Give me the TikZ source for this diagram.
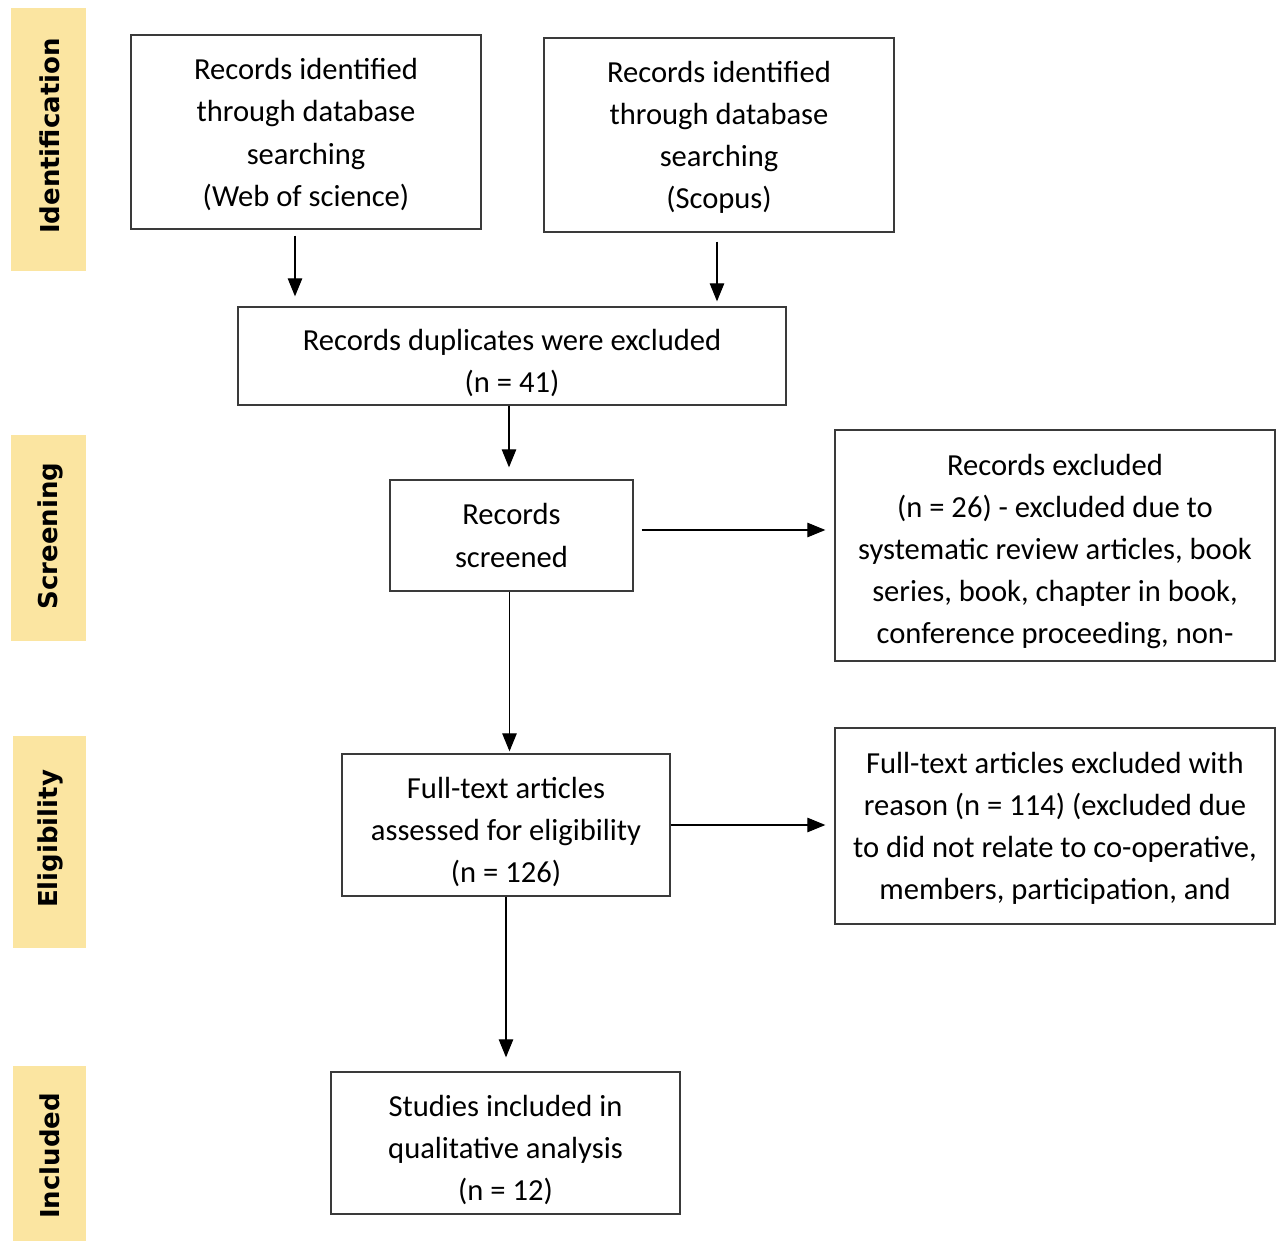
\documentclass[tikz,border=0pt]{standalone}
\usepackage{fontspec}
\setmainfont{Carlito}
\newfontfamily\bandfont{DejaVu Sans}
\usepackage{xcolor}
\usepackage{tikz}
\usetikzlibrary{arrows.meta,positioning}
\definecolor{bandyellow}{HTML}{FBE5A1}
\definecolor{boxline}{HTML}{3A3A3A}
% push the text of a box down a little
\newcommand{\lowtext}[1]{\rule{0pt}{#1}}

\begin{document}
\begin{tikzpicture}[
    box/.style={draw=boxline, line width=0.75pt, align=center, inner sep=0pt,
        font=\fontsize{17.4}{24}\selectfont},
    band/.style={fill=bandyellow, inner sep=0pt},
    bandlabel/.style={rotate=90, font=\bandfont\bfseries\fontsize{14.8}{17}\selectfont},
    arr/.style={line width=0.6pt, -{Triangle[length=0.36cm, width=0.29cm]}}
]
    % Page frame
    \useasboundingbox (0,0) rectangle (25.62,-24.86);
    % Stage bands on the left
    \node[band, minimum width=1.5cm, minimum height=5.26cm] (bandid) at (0.97,-2.79) {};
    \node[band, minimum width=1.5cm, minimum height=4.12cm] (bandscr) at (0.97,-10.76) {};
    \node[band, minimum width=1.46cm, minimum height=4.24cm] (bandelig) at (0.99,-16.84) {};
    \node[band, minimum width=1.46cm, minimum height=3.5cm] (bandincl) at (0.99,-23.07) {};
    \node[bandlabel] (labid) at (1.0,-2.72) {Identification};
    \node[bandlabel] (labscr) at (1.0,-10.72) {Screening};
    \node[bandlabel] (labelig) at (1.0,-16.78) {Eligibility};
    \node[bandlabel] (labincl) at (1.0,-23.12) {Included};
    % Identification
    \node[box, minimum width=7.0cm, minimum height=3.88cm] (wos) at (6.12,-2.64)
        {\lowtext{15pt}Records identified\\through database\\searching\\(Web of science)};
    \node[box, minimum width=7.0cm, minimum height=3.88cm] (scopus) at (14.38,-2.70)
        {\lowtext{15pt}Records identified\\through database\\searching\\(Scopus)};
    \node[box, minimum width=10.96cm, minimum height=1.96cm] (dup) at (10.24,-7.12)
        {\lowtext{20pt}Records duplicates were excluded\\(n = 41)};
    % Screening
    \node[box, minimum width=4.86cm, minimum height=2.22cm] (screened) at (10.23,-10.71)
        {Records\\screened};
    \node[box, minimum width=8.8cm, minimum height=4.62cm] (recexcl) at (21.10,-10.91)
        {\lowtext{19pt}Records excluded\\(n = 26) - excluded due to\\systematic review articles, book\\series, book, chapter in book,\\conference proceeding, non-};
    % Eligibility
    \node[box, minimum width=6.56cm, minimum height=2.84cm] (fulltext) at (10.12,-16.50)
        {\lowtext{20pt}Full-text articles\\assessed for eligibility\\(n = 126)};
    \node[box, minimum width=8.8cm, minimum height=3.92cm] (ftexcl) at (21.10,-16.52)
        {\lowtext{15pt}Full-text articles excluded with\\reason (n = 114) (excluded due\\to did not relate to co-operative,\\members, participation, and};
    % Included
    \node[box, minimum width=6.98cm, minimum height=2.84cm] (included) at (10.11,-22.86)
        {\lowtext{20pt}Studies included in\\qualitative analysis\\(n = 12)};
    % Connectors
    \draw[arr, shorten <=0.12cm, shorten >=0.2cm] ([xshift=-0.22cm]wos.south) -- ([xshift=-0.22cm]wos.south |- dup.north);
    \draw[arr, shorten <=0.18cm, shorten >=0.1cm] ([xshift=-0.04cm]scopus.south) -- ([xshift=-0.04cm]scopus.south |- dup.north);
    \draw[arr, shorten >=0.24cm] ([xshift=-0.06cm]dup.south) -- ([xshift=-0.06cm]dup.south |- screened.north);
    \draw[arr, shorten <=0.16cm, shorten >=0.18cm] ([yshift=0.11cm]screened.east) -- ([yshift=0.11cm]screened.east -| recexcl.west);
    \draw[arr, shorten >=0.04cm] ([xshift=-0.04cm]screened.south) -- ([xshift=-0.04cm]screened.south |- fulltext.north);
    \draw[arr, shorten >=0.18cm] (fulltext.east) -- (fulltext.east -| ftexcl.west);
    \draw[arr, shorten >=0.28cm] (fulltext.south) -- (fulltext.south |- included.north);
\end{tikzpicture}
\end{document}
